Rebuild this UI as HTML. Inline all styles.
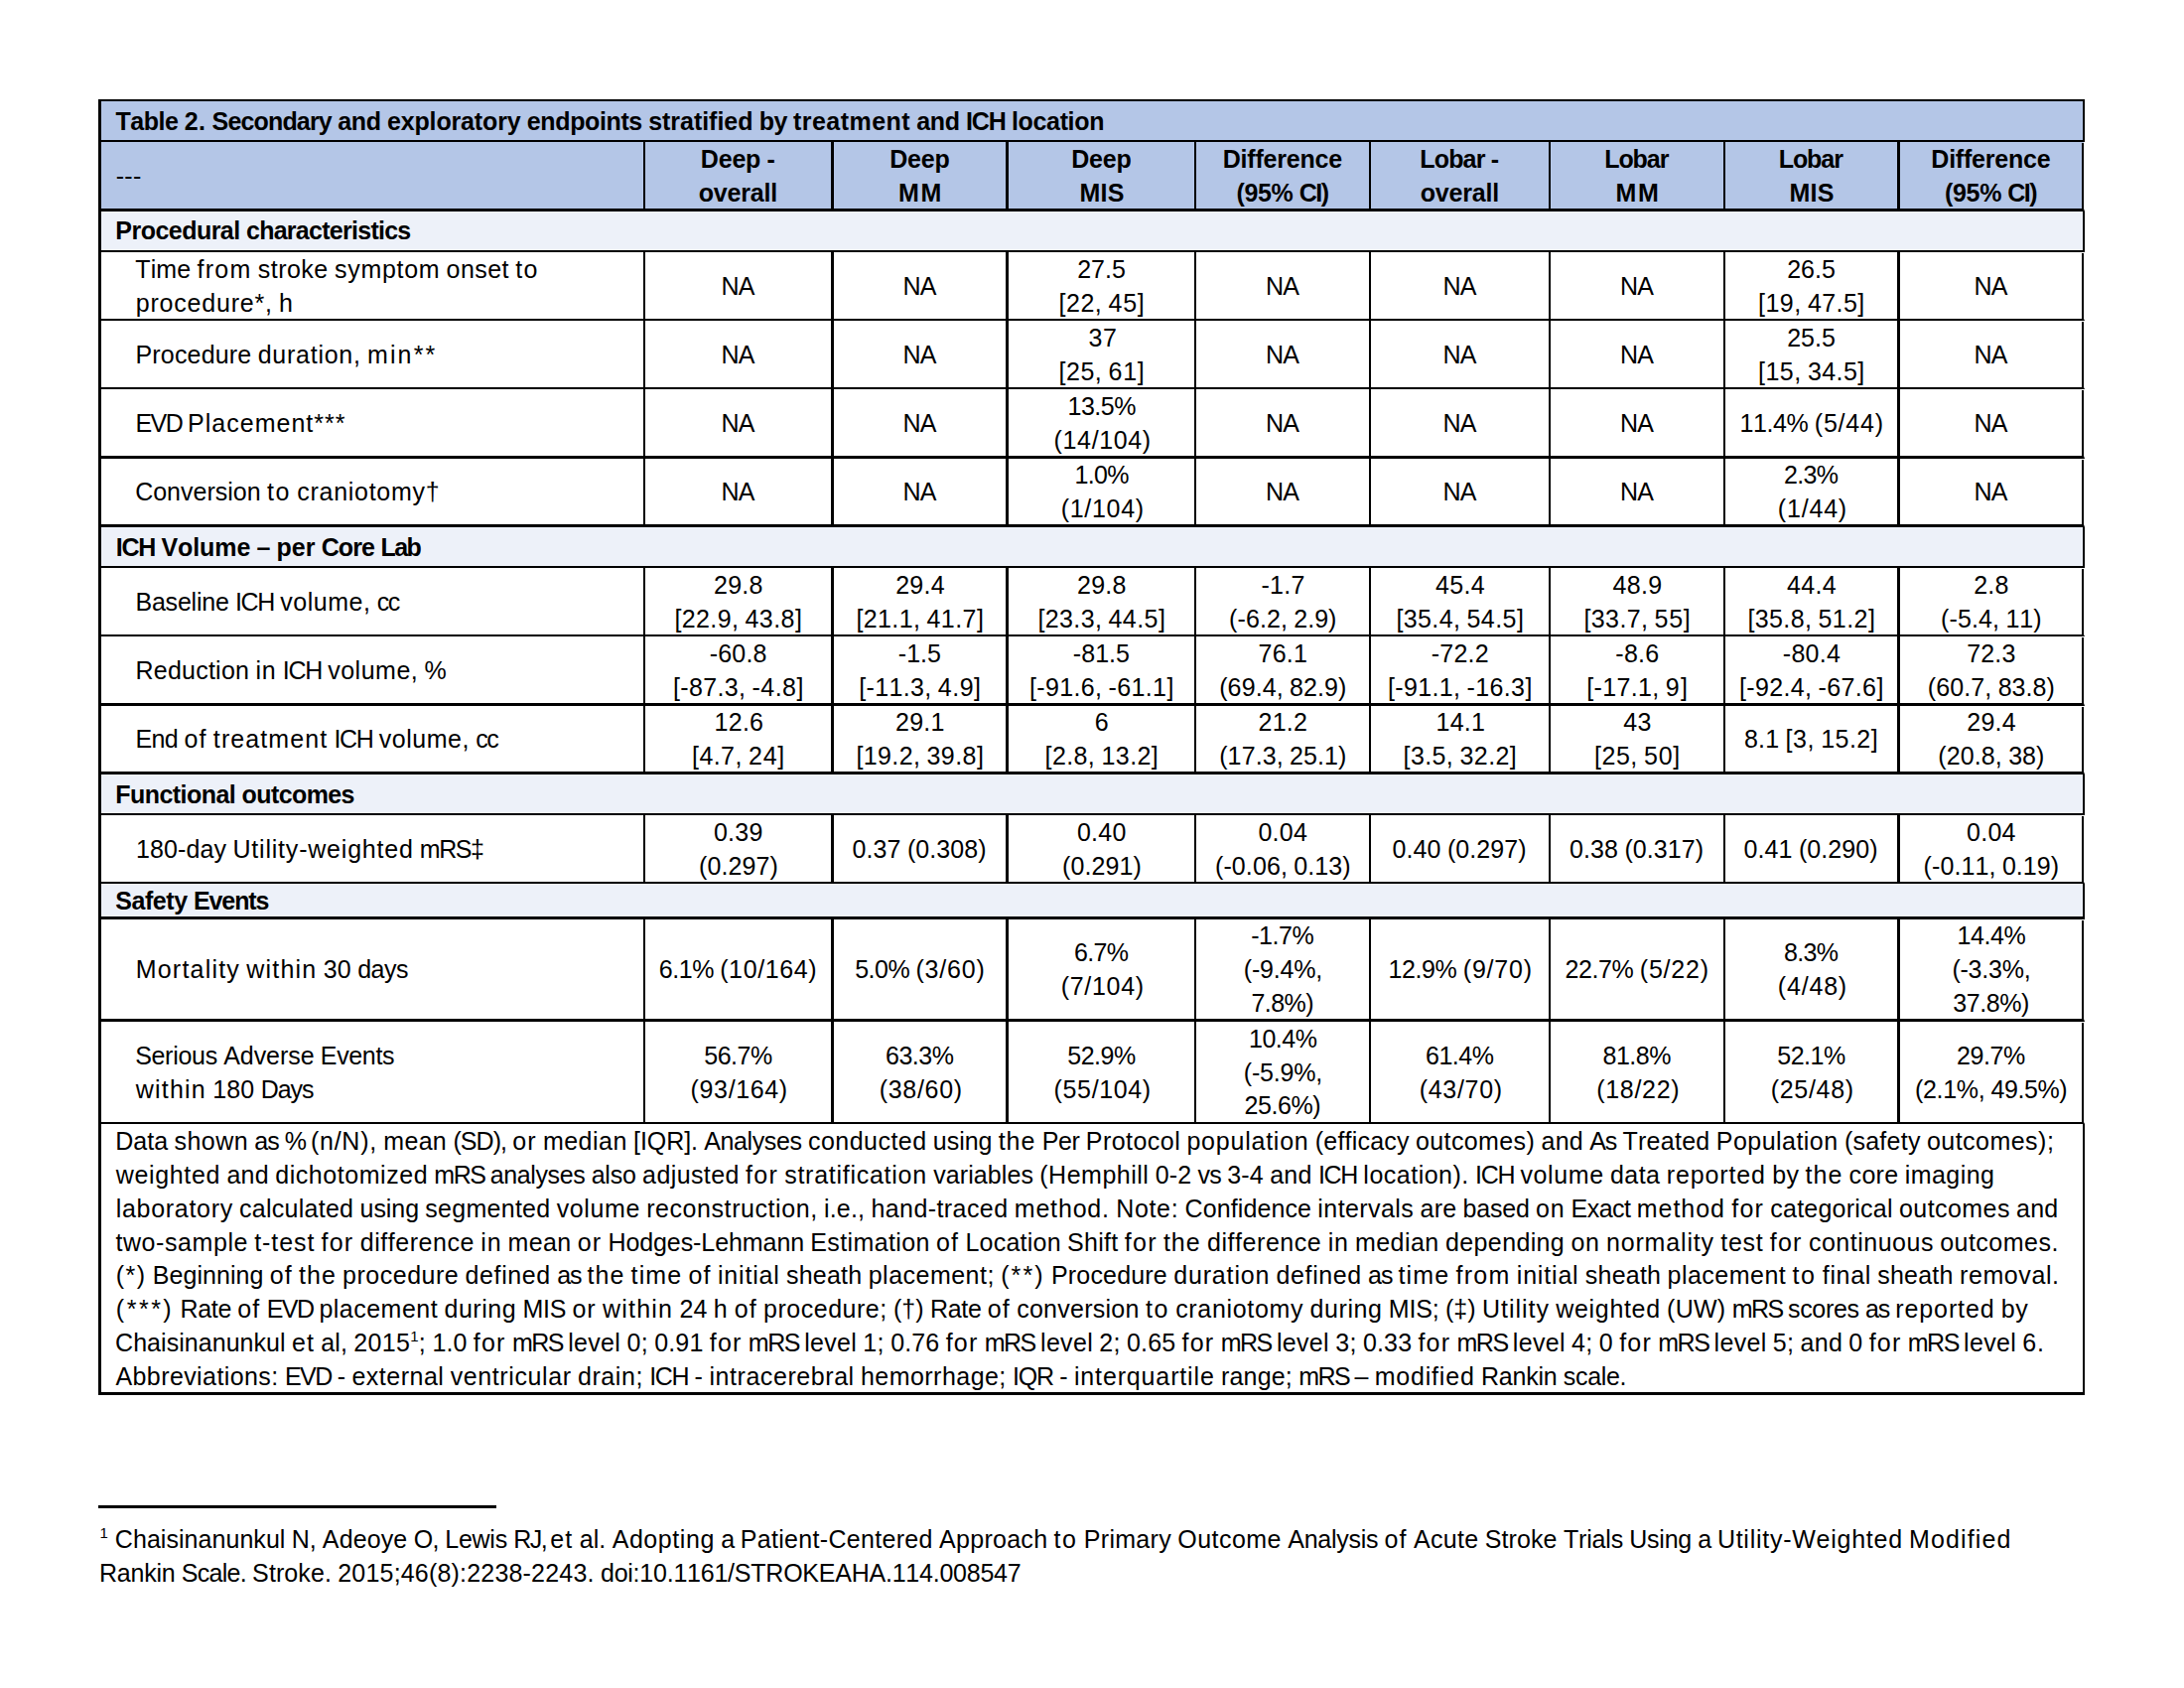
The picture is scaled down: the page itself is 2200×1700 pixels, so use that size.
<!DOCTYPE html><html lang="en"><head><meta charset="utf-8"><title>Table 2</title><style>
*{box-sizing:border-box}
html,body{margin:0;padding:0;background:#fff}
body{width:2200px;height:1700px;position:relative;overflow:hidden;font-family:"Liberation Sans",Arial,sans-serif;font-size:25px;line-height:33.86px;color:#000;font-kerning:none;font-variant-ligatures:none}
table{position:absolute;left:99px;top:100px;width:2001px;border-collapse:separate;border-spacing:0;table-layout:fixed;border-left:3px solid #000;border-top:2px solid #000}
td,th{padding:0;margin:0;border:0 solid #000;vertical-align:middle;text-align:center;font-weight:400;overflow:visible;white-space:nowrap}
.in{position:relative;top:1px;display:flex;flex-direction:column;justify-content:center;overflow:visible}
.in>div{flex:none}
.ln{display:inline-block;white-space:nowrap;position:relative}
.w{display:inline-block;white-space:pre;text-align:left}
.hd{background:#B4C6E7;font-weight:700}
.hd th{font-weight:700}
td.last,th.last{border-right:1px solid #fff !important}
.last>.in{border-right:2px solid #000}
.sc{background:#EDF1F9;font-weight:700;text-align:left}
td.lab{text-align:left}
sup{font-size:15px;line-height:0;vertical-align:baseline;position:relative;top:-10px}
.rule{position:absolute;left:99px;top:1516px;width:401px;height:3px;background:#000}
.fn{position:absolute;left:100px;top:1533.4px;line-height:34px;white-space:nowrap}
</style></head><body>
<table><colgroup><col style="width:548px"><col style="width:190px"><col style="width:176px"><col style="width:189px"><col style="width:176px"><col style="width:181px"><col style="width:176px"><col style="width:176px"><col style="width:186px"></colgroup>
<tr><td colspan="9" class="hd" style="height:41px;border-bottom-width:2px;border-right-width:2px;text-align:left"><div class="in" style="height:39px;padding-left:14.4px"><div><span class="ln"><span class="w" style="width:69.46px;letter-spacing:-0.42px">Table </span><span class="w" style="width:27.78px;letter-spacing:0.33px">2. </span><span class="w" style="width:126.52px;letter-spacing:-0.84px">Secondary </span><span class="w" style="width:49.81px;letter-spacing:-0.31px">and </span><span class="w" style="width:140.88px;letter-spacing:-0.14px">exploratory </span><span class="w" style="width:122.36px;letter-spacing:-0.37px">endpoints </span><span class="w" style="width:111.54px;letter-spacing:-0.03px">stratified </span><span class="w" style="width:34.35px;letter-spacing:-0.55px">by </span><span class="w" style="width:124.24px;letter-spacing:0.45px">treatment </span><span class="w" style="width:49.81px;letter-spacing:-0.31px">and </span><span class="w" style="width:45.92px;letter-spacing:-1.14px">ICH </span><span class="w" style="width:93.39px;letter-spacing:-0.34px">location</span></span></div></div></td></tr>
<tr><th class="hd lab" style="height:70px;border-bottom-width:3px;border-right-width:2px;text-align:left"><div class="in" style="height:67px;padding-left:14.4px"><div style="font-weight:400"><span class="ln" style="left:-0.09px"><span class="w" style="width:25.51px;letter-spacing:0.32px;text-align:center;text-indent:0.32px">---</span></span></div></div></th><th class="hd" style="height:70px;border-bottom-width:3px;border-right-width:3px"><div class="in" style="height:67px"><div><span class="ln" style="left:-0.10px"><span class="w" style="width:66.67px;letter-spacing:-0.19px">Deep </span><span class="w" style="width:8.50px;letter-spacing:0.18px">-</span></span></div><div><span class="ln" style="left:-0.14px"><span class="w" style="width:79.30px;letter-spacing:-0.20px;text-align:center;text-indent:-0.20px">overall</span></span></div></div></th><th class="hd" style="height:70px;border-bottom-width:3px;border-right-width:3px"><div class="in" style="height:67px"><div><span class="ln" style="left:-0.10px"><span class="w" style="width:60.39px;letter-spacing:-0.19px;text-align:center;text-indent:-0.19px">Deep</span></span></div><div><span class="ln" style="left:0.21px"><span class="w" style="width:48.56px;letter-spacing:1.50px;text-align:center;text-indent:1.50px">MM</span></span></div></div></th><th class="hd" style="height:70px;border-bottom-width:3px;border-right-width:2px"><div class="in" style="height:67px"><div><span class="ln" style="left:-0.10px"><span class="w" style="width:60.39px;letter-spacing:-0.19px;text-align:center;text-indent:-0.19px">Deep</span></span></div><div><span class="ln" style="left:0.21px"><span class="w" style="width:44.82px;letter-spacing:0.25px;text-align:center;text-indent:0.25px">MIS</span></span></div></div></th><th class="hd" style="height:70px;border-bottom-width:3px;border-right-width:2px"><div class="in" style="height:67px"><div><span class="ln" style="left:-0.10px"><span class="w" style="width:120.28px;letter-spacing:-0.22px;text-align:center;text-indent:-0.22px">Difference</span></span></div><div><span class="ln" style="left:0.45px"><span class="w" style="width:63.35px;letter-spacing:-0.32px">(95% </span><span class="w" style="width:30.76px;letter-spacing:-1.50px">CI)</span></span></div></div></th><th class="hd" style="height:70px;border-bottom-width:3px;border-right-width:2px"><div class="in" style="height:67px"><div><span class="ln" style="left:-0.21px"><span class="w" style="width:71.46px;letter-spacing:-0.85px">Lobar </span><span class="w" style="width:8.50px;letter-spacing:0.18px">-</span></span></div><div><span class="ln" style="left:-0.14px"><span class="w" style="width:79.30px;letter-spacing:-0.20px;text-align:center;text-indent:-0.20px">overall</span></span></div></div></th><th class="hd" style="height:70px;border-bottom-width:3px;border-right-width:2px"><div class="in" style="height:67px"><div><span class="ln" style="left:-0.21px"><span class="w" style="width:65.18px;letter-spacing:-1.07px;text-align:center;text-indent:-1.07px">Lobar</span></span></div><div><span class="ln" style="left:0.21px"><span class="w" style="width:48.56px;letter-spacing:1.50px;text-align:center;text-indent:1.50px">MM</span></span></div></div></th><th class="hd" style="height:70px;border-bottom-width:3px;border-right-width:3px"><div class="in" style="height:67px"><div><span class="ln" style="left:-0.21px"><span class="w" style="width:65.18px;letter-spacing:-1.07px;text-align:center;text-indent:-1.07px">Lobar</span></span></div><div><span class="ln" style="left:0.21px"><span class="w" style="width:44.82px;letter-spacing:0.25px;text-align:center;text-indent:0.25px">MIS</span></span></div></div></th><th class="hd last" style="height:70px;border-bottom-width:3px;border-right-width:2px"><div class="in" style="height:67px"><div><span class="ln" style="left:-0.10px"><span class="w" style="width:120.28px;letter-spacing:-0.22px;text-align:center;text-indent:-0.22px">Difference</span></span></div><div><span class="ln" style="left:0.45px"><span class="w" style="width:63.35px;letter-spacing:-0.32px">(95% </span><span class="w" style="width:30.76px;letter-spacing:-1.50px">CI)</span></span></div></div></th></tr>
<tr><td colspan="9" class="sc" style="height:41px;border-bottom-width:2px;border-right-width:2px;text-align:left"><div class="in" style="height:39px;padding-left:14.4px;top:0"><div><span class="ln" style="left:-0.11px"><span class="w" style="width:131.71px;letter-spacing:-0.52px">Procedural </span><span class="w" style="width:166.02px;letter-spacing:-0.73px">characteristics</span></span></div></div></td></tr>
<tr><td class="lab" style="height:69px;border-bottom-width:2px;border-right-width:2px;text-align:left"><div class="in" style="height:67px;padding-left:34.5px"><div><span class="ln" style="left:-0.24px"><span class="w" style="width:62.21px;letter-spacing:0.09px">Time </span><span class="w" style="width:61.28px;letter-spacing:1.25px">from </span><span class="w" style="width:77.24px;letter-spacing:0.48px">stroke </span><span class="w" style="width:112.65px;letter-spacing:0.71px">symptom </span><span class="w" style="width:69.52px;letter-spacing:0.42px">onset </span><span class="w" style="width:23.95px;letter-spacing:1.50px">to</span></span></div><div><span class="ln" style="left:0.30px"><span class="w" style="width:144.24px;letter-spacing:0.79px">procedure*, </span><span class="w" style="width:14.60px;letter-spacing:0.69px">h</span></span></div></div></td><td class="" style="height:69px;border-bottom-width:2px;border-right-width:3px"><div class="in" style="height:67px"><div><span class="ln"><span class="w" style="width:34.01px;letter-spacing:-0.77px;text-align:center;text-indent:-0.77px">NA</span></span></div></div></td><td class="" style="height:69px;border-bottom-width:2px;border-right-width:3px"><div class="in" style="height:67px"><div><span class="ln"><span class="w" style="width:34.01px;letter-spacing:-0.77px;text-align:center;text-indent:-0.77px">NA</span></span></div></div></td><td class="" style="height:69px;border-bottom-width:2px;border-right-width:2px"><div class="in" style="height:67px"><div><span class="ln"><span class="w" style="width:49.25px;letter-spacing:0.00px;text-align:center;text-indent:0.00px">27.5</span></span></div><div><span class="ln" style="left:0.39px"><span class="w" style="width:49.89px;letter-spacing:0.48px">[22, </span><span class="w" style="width:36.68px;letter-spacing:0.77px">45]</span></span></div></div></td><td class="" style="height:69px;border-bottom-width:2px;border-right-width:2px"><div class="in" style="height:67px"><div><span class="ln"><span class="w" style="width:34.01px;letter-spacing:-0.77px;text-align:center;text-indent:-0.77px">NA</span></span></div></div></td><td class="" style="height:69px;border-bottom-width:2px;border-right-width:2px"><div class="in" style="height:67px"><div><span class="ln"><span class="w" style="width:34.01px;letter-spacing:-0.77px;text-align:center;text-indent:-0.77px">NA</span></span></div></div></td><td class="" style="height:69px;border-bottom-width:2px;border-right-width:2px"><div class="in" style="height:67px"><div><span class="ln"><span class="w" style="width:34.01px;letter-spacing:-0.77px;text-align:center;text-indent:-0.77px">NA</span></span></div></div></td><td class="" style="height:69px;border-bottom-width:2px;border-right-width:3px"><div class="in" style="height:67px"><div><span class="ln"><span class="w" style="width:49.25px;letter-spacing:0.00px;text-align:center;text-indent:0.00px">26.5</span></span></div><div><span class="ln" style="left:0.39px"><span class="w" style="width:49.89px;letter-spacing:0.48px">[19, </span><span class="w" style="width:57.77px;letter-spacing:0.44px">47.5]</span></span></div></div></td><td class="last" style="height:69px;border-bottom-width:2px;border-right-width:2px"><div class="in" style="height:67px"><div><span class="ln"><span class="w" style="width:34.01px;letter-spacing:-0.77px;text-align:center;text-indent:-0.77px">NA</span></span></div></div></td></tr>
<tr><td class="lab" style="height:69px;border-bottom-width:2px;border-right-width:2px;text-align:left"><div class="in" style="height:67px;padding-left:34.5px"><div><span class="ln" style="left:-0.06px"><span class="w" style="width:123.23px;letter-spacing:0.18px">Procedure </span><span class="w" style="width:110.32px;letter-spacing:0.75px">duration, </span><span class="w" style="width:70.83px;letter-spacing:2.13px">min**</span></span></div></div></td><td class="" style="height:69px;border-bottom-width:2px;border-right-width:3px"><div class="in" style="height:67px"><div><span class="ln"><span class="w" style="width:34.01px;letter-spacing:-0.77px;text-align:center;text-indent:-0.77px">NA</span></span></div></div></td><td class="" style="height:69px;border-bottom-width:2px;border-right-width:3px"><div class="in" style="height:67px"><div><span class="ln"><span class="w" style="width:34.01px;letter-spacing:-0.77px;text-align:center;text-indent:-0.77px">NA</span></span></div></div></td><td class="" style="height:69px;border-bottom-width:2px;border-right-width:2px"><div class="in" style="height:67px"><div><span class="ln" style="left:0.34px"><span class="w" style="width:28.16px;letter-spacing:0.71px;text-align:center;text-indent:0.71px">37</span></span></div><div><span class="ln" style="left:0.39px"><span class="w" style="width:49.89px;letter-spacing:0.48px">[25, </span><span class="w" style="width:36.68px;letter-spacing:0.77px">61]</span></span></div></div></td><td class="" style="height:69px;border-bottom-width:2px;border-right-width:2px"><div class="in" style="height:67px"><div><span class="ln"><span class="w" style="width:34.01px;letter-spacing:-0.77px;text-align:center;text-indent:-0.77px">NA</span></span></div></div></td><td class="" style="height:69px;border-bottom-width:2px;border-right-width:2px"><div class="in" style="height:67px"><div><span class="ln"><span class="w" style="width:34.01px;letter-spacing:-0.77px;text-align:center;text-indent:-0.77px">NA</span></span></div></div></td><td class="" style="height:69px;border-bottom-width:2px;border-right-width:2px"><div class="in" style="height:67px"><div><span class="ln"><span class="w" style="width:34.01px;letter-spacing:-0.77px;text-align:center;text-indent:-0.77px">NA</span></span></div></div></td><td class="" style="height:69px;border-bottom-width:2px;border-right-width:3px"><div class="in" style="height:67px"><div><span class="ln"><span class="w" style="width:49.25px;letter-spacing:0.00px;text-align:center;text-indent:0.00px">25.5</span></span></div><div><span class="ln" style="left:0.39px"><span class="w" style="width:49.89px;letter-spacing:0.48px">[15, </span><span class="w" style="width:57.77px;letter-spacing:0.44px">34.5]</span></span></div></div></td><td class="last" style="height:69px;border-bottom-width:2px;border-right-width:2px"><div class="in" style="height:67px"><div><span class="ln"><span class="w" style="width:34.01px;letter-spacing:-0.77px;text-align:center;text-indent:-0.77px">NA</span></span></div></div></td></tr>
<tr><td class="lab" style="height:70px;border-bottom-width:3px;border-right-width:2px;text-align:left"><div class="in" style="height:67px;padding-left:34.5px"><div><span class="ln" style="left:-0.08px"><span class="w" style="width:52.70px;letter-spacing:-1.50px">EVD </span><span class="w" style="width:161.02px;letter-spacing:1.01px">Placement***</span></span></div></div></td><td class="" style="height:70px;border-bottom-width:3px;border-right-width:3px"><div class="in" style="height:67px"><div><span class="ln"><span class="w" style="width:34.01px;letter-spacing:-0.77px;text-align:center;text-indent:-0.77px">NA</span></span></div></div></td><td class="" style="height:70px;border-bottom-width:3px;border-right-width:3px"><div class="in" style="height:67px"><div><span class="ln"><span class="w" style="width:34.01px;letter-spacing:-0.77px;text-align:center;text-indent:-0.77px">NA</span></span></div></div></td><td class="" style="height:70px;border-bottom-width:3px;border-right-width:2px"><div class="in" style="height:67px"><div><span class="ln" style="left:0.50px"><span class="w" style="width:69.11px;letter-spacing:-0.44px;text-align:center;text-indent:-0.44px">13.5%</span></span></div><div><span class="ln" style="left:0.48px"><span class="w" style="width:97.98px;letter-spacing:0.63px;text-align:center;text-indent:0.63px">(14/104)</span></span></div></div></td><td class="" style="height:70px;border-bottom-width:3px;border-right-width:2px"><div class="in" style="height:67px"><div><span class="ln"><span class="w" style="width:34.01px;letter-spacing:-0.77px;text-align:center;text-indent:-0.77px">NA</span></span></div></div></td><td class="" style="height:70px;border-bottom-width:3px;border-right-width:2px"><div class="in" style="height:67px"><div><span class="ln"><span class="w" style="width:34.01px;letter-spacing:-0.77px;text-align:center;text-indent:-0.77px">NA</span></span></div></div></td><td class="" style="height:70px;border-bottom-width:3px;border-right-width:2px"><div class="in" style="height:67px"><div><span class="ln"><span class="w" style="width:34.01px;letter-spacing:-0.77px;text-align:center;text-indent:-0.77px">NA</span></span></div></div></td><td class="" style="height:70px;border-bottom-width:3px;border-right-width:3px"><div class="in" style="height:67px"><div><span class="ln" style="left:0.50px"><span class="w" style="width:75.39px;letter-spacing:-0.36px">11.4% </span><span class="w" style="width:69.82px;letter-spacing:0.80px">(5/44)</span></span></div></div></td><td class="last" style="height:70px;border-bottom-width:3px;border-right-width:2px"><div class="in" style="height:67px"><div><span class="ln"><span class="w" style="width:34.01px;letter-spacing:-0.77px;text-align:center;text-indent:-0.77px">NA</span></span></div></div></td></tr>
<tr><td class="lab" style="height:69px;border-bottom-width:3px;border-right-width:2px;text-align:left"><div class="in" style="height:66px;padding-left:34.5px"><div><span class="ln" style="left:-0.36px"><span class="w" style="width:132.88px;letter-spacing:0.01px">Conversion </span><span class="w" style="width:30.24px;letter-spacing:1.50px">to </span><span class="w" style="width:142.92px;letter-spacing:0.72px">craniotomy†</span></span></div></div></td><td class="" style="height:69px;border-bottom-width:3px;border-right-width:3px"><div class="in" style="height:66px"><div><span class="ln"><span class="w" style="width:34.01px;letter-spacing:-0.77px;text-align:center;text-indent:-0.77px">NA</span></span></div></div></td><td class="" style="height:69px;border-bottom-width:3px;border-right-width:3px"><div class="in" style="height:66px"><div><span class="ln"><span class="w" style="width:34.01px;letter-spacing:-0.77px;text-align:center;text-indent:-0.77px">NA</span></span></div></div></td><td class="" style="height:69px;border-bottom-width:3px;border-right-width:2px"><div class="in" style="height:66px"><div><span class="ln" style="left:0.50px"><span class="w" style="width:55.03px;letter-spacing:-0.65px;text-align:center;text-indent:-0.65px">1.0%</span></span></div><div><span class="ln" style="left:0.48px"><span class="w" style="width:83.90px;letter-spacing:0.70px;text-align:center;text-indent:0.70px">(1/104)</span></span></div></div></td><td class="" style="height:69px;border-bottom-width:3px;border-right-width:2px"><div class="in" style="height:66px"><div><span class="ln"><span class="w" style="width:34.01px;letter-spacing:-0.77px;text-align:center;text-indent:-0.77px">NA</span></span></div></div></td><td class="" style="height:69px;border-bottom-width:3px;border-right-width:2px"><div class="in" style="height:66px"><div><span class="ln"><span class="w" style="width:34.01px;letter-spacing:-0.77px;text-align:center;text-indent:-0.77px">NA</span></span></div></div></td><td class="" style="height:69px;border-bottom-width:3px;border-right-width:2px"><div class="in" style="height:66px"><div><span class="ln"><span class="w" style="width:34.01px;letter-spacing:-0.77px;text-align:center;text-indent:-0.77px">NA</span></span></div></div></td><td class="" style="height:69px;border-bottom-width:3px;border-right-width:3px"><div class="in" style="height:66px"><div><span class="ln"><span class="w" style="width:55.03px;letter-spacing:-0.65px;text-align:center;text-indent:-0.65px">2.3%</span></span></div><div><span class="ln" style="left:0.48px"><span class="w" style="width:69.82px;letter-spacing:0.80px;text-align:center;text-indent:0.80px">(1/44)</span></span></div></div></td><td class="last" style="height:69px;border-bottom-width:3px;border-right-width:2px"><div class="in" style="height:66px"><div><span class="ln"><span class="w" style="width:34.01px;letter-spacing:-0.77px;text-align:center;text-indent:-0.77px">NA</span></span></div></div></td></tr>
<tr><td colspan="9" class="sc" style="height:41px;border-bottom-width:2px;border-right-width:2px;text-align:left"><div class="in" style="height:39px;padding-left:14.4px"><div><span class="ln" style="left:0.24px"><span class="w" style="width:45.92px;letter-spacing:-1.14px">ICH </span><span class="w" style="width:95.95px;letter-spacing:-0.10px">Volume </span><span class="w" style="width:20.12px;letter-spacing:-0.07px">– </span><span class="w" style="width:45.05px;letter-spacing:-0.05px">per </span><span class="w" style="width:59.78px;letter-spacing:-0.86px">Core </span><span class="w" style="width:40.37px;letter-spacing:-1.50px">Lab</span></span></div></div></td></tr>
<tr><td class="lab" style="height:69px;border-bottom-width:2px;border-right-width:2px;text-align:left"><div class="in" style="height:67px;padding-left:34.5px"><div><span class="ln" style="left:-0.10px"><span class="w" style="width:100.55px;letter-spacing:-0.20px">Baseline </span><span class="w" style="width:45.40px;letter-spacing:-1.31px">ICH </span><span class="w" style="width:97.39px;letter-spacing:0.51px">volume, </span><span class="w" style="width:23.49px;letter-spacing:-1.39px">cc</span></span></div></div></td><td class="" style="height:69px;border-bottom-width:2px;border-right-width:3px"><div class="in" style="height:67px"><div><span class="ln"><span class="w" style="width:49.25px;letter-spacing:0.19px;text-align:center;text-indent:0.19px">29.8</span></span></div><div><span class="ln" style="left:0.39px"><span class="w" style="width:70.98px;letter-spacing:0.36px">[22.9, </span><span class="w" style="width:57.77px;letter-spacing:0.44px">43.8]</span></span></div></div></td><td class="" style="height:69px;border-bottom-width:2px;border-right-width:3px"><div class="in" style="height:67px"><div><span class="ln"><span class="w" style="width:49.25px;letter-spacing:0.29px;text-align:center;text-indent:0.29px">29.4</span></span></div><div><span class="ln" style="left:0.39px"><span class="w" style="width:70.98px;letter-spacing:0.36px">[21.1, </span><span class="w" style="width:57.77px;letter-spacing:0.44px">41.7]</span></span></div></div></td><td class="" style="height:69px;border-bottom-width:2px;border-right-width:2px"><div class="in" style="height:67px"><div><span class="ln"><span class="w" style="width:49.25px;letter-spacing:0.19px;text-align:center;text-indent:0.19px">29.8</span></span></div><div><span class="ln" style="left:0.39px"><span class="w" style="width:70.98px;letter-spacing:0.36px">[23.3, </span><span class="w" style="width:57.77px;letter-spacing:0.44px">44.5]</span></span></div></div></td><td class="" style="height:69px;border-bottom-width:2px;border-right-width:2px"><div class="in" style="height:67px"><div><span class="ln" style="left:-0.09px"><span class="w" style="width:43.68px;letter-spacing:0.32px;text-align:center;text-indent:0.32px">-1.7</span></span></div><div><span class="ln" style="left:0.48px"><span class="w" style="width:65.31px;letter-spacing:0.11px">(-6.2, </span><span class="w" style="width:43.60px;letter-spacing:0.01px">2.9)</span></span></div></div></td><td class="" style="height:69px;border-bottom-width:2px;border-right-width:2px"><div class="in" style="height:67px"><div><span class="ln" style="left:-0.10px"><span class="w" style="width:49.25px;letter-spacing:0.29px;text-align:center;text-indent:0.29px">45.4</span></span></div><div><span class="ln" style="left:0.39px"><span class="w" style="width:70.98px;letter-spacing:0.36px">[35.4, </span><span class="w" style="width:57.77px;letter-spacing:0.44px">54.5]</span></span></div></div></td><td class="" style="height:69px;border-bottom-width:2px;border-right-width:2px"><div class="in" style="height:67px"><div><span class="ln" style="left:-0.10px"><span class="w" style="width:49.25px;letter-spacing:0.28px;text-align:center;text-indent:0.28px">48.9</span></span></div><div><span class="ln" style="left:0.39px"><span class="w" style="width:70.98px;letter-spacing:0.36px">[33.7, </span><span class="w" style="width:36.68px;letter-spacing:0.77px">55]</span></span></div></div></td><td class="" style="height:69px;border-bottom-width:2px;border-right-width:3px"><div class="in" style="height:67px"><div><span class="ln" style="left:-0.10px"><span class="w" style="width:49.25px;letter-spacing:0.29px;text-align:center;text-indent:0.29px">44.4</span></span></div><div><span class="ln" style="left:0.39px"><span class="w" style="width:70.98px;letter-spacing:0.36px">[35.8, </span><span class="w" style="width:57.77px;letter-spacing:0.44px">51.2]</span></span></div></div></td><td class="last" style="height:69px;border-bottom-width:2px;border-right-width:2px"><div class="in" style="height:67px"><div><span class="ln"><span class="w" style="width:35.17px;letter-spacing:0.20px;text-align:center;text-indent:0.20px">2.8</span></span></div><div><span class="ln" style="left:0.48px"><span class="w" style="width:65.31px;letter-spacing:0.11px">(-5.4, </span><span class="w" style="width:36.58px;letter-spacing:-0.02px">11)</span></span></div></div></td></tr>
<tr><td class="lab" style="height:70px;border-bottom-width:3px;border-right-width:2px;text-align:left"><div class="in" style="height:67px;padding-left:34.5px"><div><span class="ln" style="left:-0.06px"><span class="w" style="width:121.05px;letter-spacing:0.24px">Reduction </span><span class="w" style="width:27.25px;letter-spacing:0.76px">in </span><span class="w" style="width:45.40px;letter-spacing:-1.31px">ICH </span><span class="w" style="width:97.39px;letter-spacing:0.51px">volume, </span><span class="w" style="width:19.86px;letter-spacing:-1.50px">%</span></span></div></div></td><td class="" style="height:70px;border-bottom-width:3px;border-right-width:3px"><div class="in" style="height:67px"><div><span class="ln" style="left:-0.09px"><span class="w" style="width:57.76px;letter-spacing:0.19px;text-align:center;text-indent:0.19px">-60.8</span></span></div><div><span class="ln" style="left:0.39px"><span class="w" style="width:79.49px;letter-spacing:0.33px">[-87.3, </span><span class="w" style="width:52.20px;letter-spacing:0.45px">-4.8]</span></span></div></div></td><td class="" style="height:70px;border-bottom-width:3px;border-right-width:3px"><div class="in" style="height:67px"><div><span class="ln" style="left:-0.09px"><span class="w" style="width:43.68px;letter-spacing:0.00px;text-align:center;text-indent:0.00px">-1.5</span></span></div><div><span class="ln" style="left:0.39px"><span class="w" style="width:79.49px;letter-spacing:0.33px">[-11.3, </span><span class="w" style="width:43.69px;letter-spacing:0.53px">4.9]</span></span></div></div></td><td class="" style="height:70px;border-bottom-width:3px;border-right-width:2px"><div class="in" style="height:67px"><div><span class="ln" style="left:-0.09px"><span class="w" style="width:57.76px;letter-spacing:0.05px;text-align:center;text-indent:0.05px">-81.5</span></span></div><div><span class="ln" style="left:0.39px"><span class="w" style="width:79.49px;letter-spacing:0.33px">[-91.6, </span><span class="w" style="width:66.28px;letter-spacing:0.39px">-61.1]</span></span></div></div></td><td class="" style="height:70px;border-bottom-width:3px;border-right-width:2px"><div class="in" style="height:67px"><div><span class="ln"><span class="w" style="width:49.25px;letter-spacing:0.19px;text-align:center;text-indent:0.19px">76.1</span></span></div><div><span class="ln" style="left:0.48px"><span class="w" style="width:70.89px;letter-spacing:0.11px">(69.4, </span><span class="w" style="width:57.68px;letter-spacing:0.05px">82.9)</span></span></div></div></td><td class="" style="height:70px;border-bottom-width:3px;border-right-width:2px"><div class="in" style="height:67px"><div><span class="ln" style="left:-0.09px"><span class="w" style="width:57.76px;letter-spacing:0.21px;text-align:center;text-indent:0.21px">-72.2</span></span></div><div><span class="ln" style="left:0.39px"><span class="w" style="width:79.49px;letter-spacing:0.33px">[-91.1, </span><span class="w" style="width:66.28px;letter-spacing:0.39px">-16.3]</span></span></div></div></td><td class="" style="height:70px;border-bottom-width:3px;border-right-width:2px"><div class="in" style="height:67px"><div><span class="ln" style="left:-0.09px"><span class="w" style="width:43.68px;letter-spacing:0.24px;text-align:center;text-indent:0.24px">-8.6</span></span></div><div><span class="ln" style="left:0.39px"><span class="w" style="width:79.49px;letter-spacing:0.33px">[-17.1, </span><span class="w" style="width:22.60px;letter-spacing:1.36px">9]</span></span></div></div></td><td class="" style="height:70px;border-bottom-width:3px;border-right-width:3px"><div class="in" style="height:67px"><div><span class="ln" style="left:-0.09px"><span class="w" style="width:57.76px;letter-spacing:0.26px;text-align:center;text-indent:0.26px">-80.4</span></span></div><div><span class="ln" style="left:0.39px"><span class="w" style="width:79.49px;letter-spacing:0.33px">[-92.4, </span><span class="w" style="width:66.28px;letter-spacing:0.39px">-67.6]</span></span></div></div></td><td class="last" style="height:70px;border-bottom-width:3px;border-right-width:2px"><div class="in" style="height:67px"><div><span class="ln"><span class="w" style="width:49.25px;letter-spacing:0.21px;text-align:center;text-indent:0.21px">72.3</span></span></div><div><span class="ln" style="left:0.48px"><span class="w" style="width:70.89px;letter-spacing:0.11px">(60.7, </span><span class="w" style="width:57.68px;letter-spacing:0.05px">83.8)</span></span></div></div></td></tr>
<tr><td class="lab" style="height:69px;border-bottom-width:3px;border-right-width:2px;text-align:left"><div class="in" style="height:66px;padding-left:34.5px"><div><span class="ln" style="left:-0.08px"><span class="w" style="width:49.04px;letter-spacing:-0.58px">End </span><span class="w" style="width:29.41px;letter-spacing:1.14px">of </span><span class="w" style="width:121.62px;letter-spacing:1.08px">treatment </span><span class="w" style="width:45.40px;letter-spacing:-1.31px">ICH </span><span class="w" style="width:97.39px;letter-spacing:0.51px">volume, </span><span class="w" style="width:23.49px;letter-spacing:-1.39px">cc</span></span></div></div></td><td class="" style="height:69px;border-bottom-width:3px;border-right-width:3px"><div class="in" style="height:66px"><div><span class="ln" style="left:0.50px"><span class="w" style="width:49.25px;letter-spacing:0.24px;text-align:center;text-indent:0.24px">12.6</span></span></div><div><span class="ln" style="left:0.39px"><span class="w" style="width:56.90px;letter-spacing:0.40px">[4.7, </span><span class="w" style="width:36.68px;letter-spacing:0.77px">24]</span></span></div></div></td><td class="" style="height:69px;border-bottom-width:3px;border-right-width:3px"><div class="in" style="height:66px"><div><span class="ln"><span class="w" style="width:49.25px;letter-spacing:0.19px;text-align:center;text-indent:0.19px">29.1</span></span></div><div><span class="ln" style="left:0.39px"><span class="w" style="width:70.98px;letter-spacing:0.36px">[19.2, </span><span class="w" style="width:57.77px;letter-spacing:0.44px">39.8]</span></span></div></div></td><td class="" style="height:69px;border-bottom-width:3px;border-right-width:2px"><div class="in" style="height:66px"><div><span class="ln"><span class="w" style="width:14.08px;letter-spacing:0.18px;text-align:center;text-indent:0.18px">6</span></span></div><div><span class="ln" style="left:0.39px"><span class="w" style="width:56.90px;letter-spacing:0.40px">[2.8, </span><span class="w" style="width:57.77px;letter-spacing:0.44px">13.2]</span></span></div></div></td><td class="" style="height:69px;border-bottom-width:3px;border-right-width:2px"><div class="in" style="height:66px"><div><span class="ln"><span class="w" style="width:49.25px;letter-spacing:0.22px;text-align:center;text-indent:0.22px">21.2</span></span></div><div><span class="ln" style="left:0.48px"><span class="w" style="width:70.89px;letter-spacing:0.11px">(17.3, </span><span class="w" style="width:57.68px;letter-spacing:0.05px">25.1)</span></span></div></div></td><td class="" style="height:69px;border-bottom-width:3px;border-right-width:2px"><div class="in" style="height:66px"><div><span class="ln" style="left:0.50px"><span class="w" style="width:49.25px;letter-spacing:0.19px;text-align:center;text-indent:0.19px">14.1</span></span></div><div><span class="ln" style="left:0.39px"><span class="w" style="width:56.90px;letter-spacing:0.40px">[3.5, </span><span class="w" style="width:57.77px;letter-spacing:0.44px">32.2]</span></span></div></div></td><td class="" style="height:69px;border-bottom-width:3px;border-right-width:2px"><div class="in" style="height:66px"><div><span class="ln" style="left:-0.10px"><span class="w" style="width:28.16px;letter-spacing:0.39px;text-align:center;text-indent:0.39px">43</span></span></div><div><span class="ln" style="left:0.39px"><span class="w" style="width:49.89px;letter-spacing:0.48px">[25, </span><span class="w" style="width:36.68px;letter-spacing:0.77px">50]</span></span></div></div></td><td class="" style="height:69px;border-bottom-width:3px;border-right-width:3px"><div class="in" style="height:66px"><div><span class="ln"><span class="w" style="width:41.45px;letter-spacing:0.14px">8.1 </span><span class="w" style="width:35.81px;letter-spacing:0.58px">[3, </span><span class="w" style="width:57.77px;letter-spacing:0.44px">15.2]</span></span></div></div></td><td class="last" style="height:69px;border-bottom-width:3px;border-right-width:2px"><div class="in" style="height:66px"><div><span class="ln"><span class="w" style="width:49.25px;letter-spacing:0.29px;text-align:center;text-indent:0.29px">29.4</span></span></div><div><span class="ln" style="left:0.48px"><span class="w" style="width:70.89px;letter-spacing:0.11px">(20.8, </span><span class="w" style="width:36.58px;letter-spacing:-0.02px">38)</span></span></div></div></td></tr>
<tr><td colspan="9" class="sc" style="height:41px;border-bottom-width:2px;border-right-width:2px;text-align:left"><div class="in" style="height:39px;padding-left:14.4px"><div><span class="ln" style="left:-0.19px"><span class="w" style="width:127.30px;letter-spacing:-0.54px">Functional </span><span class="w" style="width:113.70px;letter-spacing:-0.58px">outcomes</span></span></div></div></td></tr>
<tr><td class="lab" style="height:69px;border-bottom-width:2px;border-right-width:2px;text-align:left"><div class="in" style="height:67px;padding-left:34.5px"><div><span class="ln" style="left:0.50px"><span class="w" style="width:97.50px;letter-spacing:0.13px">180-day </span><span class="w" style="width:188.37px;letter-spacing:0.79px">Utility-weighted </span><span class="w" style="width:63.88px;letter-spacing:-1.50px">mRS‡</span></span></div></div></td><td class="" style="height:69px;border-bottom-width:2px;border-right-width:3px"><div class="in" style="height:67px"><div><span class="ln" style="left:-0.26px"><span class="w" style="width:49.25px;letter-spacing:0.28px;text-align:center;text-indent:0.28px">0.39</span></span></div><div><span class="ln" style="left:0.48px"><span class="w" style="width:80.18px;letter-spacing:0.08px;text-align:center;text-indent:0.08px">(0.297)</span></span></div></div></td><td class="" style="height:69px;border-bottom-width:2px;border-right-width:3px"><div class="in" style="height:67px"><div><span class="ln" style="left:-0.26px"><span class="w" style="width:55.53px;letter-spacing:0.15px">0.37 </span><span class="w" style="width:80.18px;letter-spacing:0.08px">(0.308)</span></span></div></div></td><td class="" style="height:69px;border-bottom-width:2px;border-right-width:2px"><div class="in" style="height:67px"><div><span class="ln" style="left:-0.26px"><span class="w" style="width:49.25px;letter-spacing:0.28px;text-align:center;text-indent:0.28px">0.40</span></span></div><div><span class="ln" style="left:0.48px"><span class="w" style="width:80.18px;letter-spacing:0.08px;text-align:center;text-indent:0.08px">(0.291)</span></span></div></div></td><td class="" style="height:69px;border-bottom-width:2px;border-right-width:2px"><div class="in" style="height:67px"><div><span class="ln" style="left:-0.26px"><span class="w" style="width:49.25px;letter-spacing:0.29px;text-align:center;text-indent:0.29px">0.04</span></span></div><div><span class="ln" style="left:0.48px"><span class="w" style="width:79.39px;letter-spacing:0.12px">(-0.06, </span><span class="w" style="width:57.68px;letter-spacing:0.05px">0.13)</span></span></div></div></td><td class="" style="height:69px;border-bottom-width:2px;border-right-width:2px"><div class="in" style="height:67px"><div><span class="ln" style="left:-0.26px"><span class="w" style="width:55.53px;letter-spacing:0.15px">0.40 </span><span class="w" style="width:80.18px;letter-spacing:0.08px">(0.297)</span></span></div></div></td><td class="" style="height:69px;border-bottom-width:2px;border-right-width:2px"><div class="in" style="height:67px"><div><span class="ln" style="left:-0.26px"><span class="w" style="width:55.53px;letter-spacing:0.15px">0.38 </span><span class="w" style="width:80.18px;letter-spacing:0.08px">(0.317)</span></span></div></div></td><td class="" style="height:69px;border-bottom-width:2px;border-right-width:3px"><div class="in" style="height:67px"><div><span class="ln" style="left:-0.26px"><span class="w" style="width:55.53px;letter-spacing:0.15px">0.41 </span><span class="w" style="width:80.18px;letter-spacing:0.08px">(0.290)</span></span></div></div></td><td class="last" style="height:69px;border-bottom-width:2px;border-right-width:2px"><div class="in" style="height:67px"><div><span class="ln" style="left:-0.26px"><span class="w" style="width:49.25px;letter-spacing:0.29px;text-align:center;text-indent:0.29px">0.04</span></span></div><div><span class="ln" style="left:0.48px"><span class="w" style="width:79.39px;letter-spacing:0.12px">(-0.11, </span><span class="w" style="width:57.68px;letter-spacing:0.05px">0.19)</span></span></div></div></td></tr>
<tr><td colspan="9" class="sc" style="height:36px;border-bottom-width:3px;border-right-width:2px;text-align:left"><div class="in" style="height:33px;padding-left:14.4px"><div><span class="ln" style="left:-0.20px"><span class="w" style="width:78.69px;letter-spacing:-0.44px">Safety </span><span class="w" style="width:76.30px;letter-spacing:-1.07px">Events</span></span></div></div></td></tr>
<tr><td class="lab" style="height:103px;border-bottom-width:3px;border-right-width:2px;text-align:left"><div class="in" style="height:100px;padding-left:34.5px"><div><span class="ln" style="left:0.21px"><span class="w" style="width:111.61px;letter-spacing:1.21px">Mortality </span><span class="w" style="width:77.39px;letter-spacing:1.20px">within </span><span class="w" style="width:34.44px;letter-spacing:0.18px">30 </span><span class="w" style="width:51.34px;letter-spacing:-0.50px">days</span></span></div></div></td><td class="" style="height:103px;border-bottom-width:3px;border-right-width:3px"><div class="in" style="height:100px"><div><span class="ln"><span class="w" style="width:61.31px;letter-spacing:-0.49px">6.1% </span><span class="w" style="width:97.98px;letter-spacing:0.63px">(10/164)</span></span></div></div></td><td class="" style="height:103px;border-bottom-width:3px;border-right-width:3px"><div class="in" style="height:100px"><div><span class="ln" style="left:0.26px"><span class="w" style="width:61.31px;letter-spacing:-0.49px">5.0% </span><span class="w" style="width:69.82px;letter-spacing:0.80px">(3/60)</span></span></div></div></td><td class="" style="height:103px;border-bottom-width:3px;border-right-width:2px"><div class="in" style="height:100px"><div><span class="ln"><span class="w" style="width:55.03px;letter-spacing:-0.65px;text-align:center;text-indent:-0.65px">6.7%</span></span></div><div><span class="ln" style="left:0.48px"><span class="w" style="width:83.90px;letter-spacing:0.70px;text-align:center;text-indent:0.70px">(7/104)</span></span></div></div></td><td class="" style="height:103px;border-bottom-width:3px;border-right-width:2px"><div class="in" style="height:100px"><div><span class="ln" style="left:-0.09px"><span class="w" style="width:63.54px;letter-spacing:-0.44px;text-align:center;text-indent:-0.44px">-1.7%</span></span></div><div><span class="ln" style="left:0.48px"><span class="w" style="width:78.89px;letter-spacing:-0.21px;text-align:center;text-indent:-0.21px">(-9.4%,</span></span></div><div><span class="ln"><span class="w" style="width:63.45px;letter-spacing:-0.58px;text-align:center;text-indent:-0.58px">7.8%)</span></span></div></div></td><td class="" style="height:103px;border-bottom-width:3px;border-right-width:2px"><div class="in" style="height:100px"><div><span class="ln" style="left:0.50px"><span class="w" style="width:75.39px;letter-spacing:-0.36px">12.9% </span><span class="w" style="width:69.82px;letter-spacing:0.80px">(9/70)</span></span></div></div></td><td class="" style="height:103px;border-bottom-width:3px;border-right-width:2px"><div class="in" style="height:100px"><div><span class="ln"><span class="w" style="width:75.39px;letter-spacing:-0.36px">22.7% </span><span class="w" style="width:69.82px;letter-spacing:0.80px">(5/22)</span></span></div></div></td><td class="" style="height:103px;border-bottom-width:3px;border-right-width:3px"><div class="in" style="height:100px"><div><span class="ln"><span class="w" style="width:55.03px;letter-spacing:-0.65px;text-align:center;text-indent:-0.65px">8.3%</span></span></div><div><span class="ln" style="left:0.48px"><span class="w" style="width:69.82px;letter-spacing:0.80px;text-align:center;text-indent:0.80px">(4/48)</span></span></div></div></td><td class="last" style="height:103px;border-bottom-width:3px;border-right-width:2px"><div class="in" style="height:100px"><div><span class="ln" style="left:0.50px"><span class="w" style="width:69.11px;letter-spacing:-0.44px;text-align:center;text-indent:-0.44px">14.4%</span></span></div><div><span class="ln" style="left:0.48px"><span class="w" style="width:78.89px;letter-spacing:-0.21px;text-align:center;text-indent:-0.21px">(-3.3%,</span></span></div><div><span class="ln" style="left:0.34px"><span class="w" style="width:77.53px;letter-spacing:-0.43px;text-align:center;text-indent:-0.43px">37.8%)</span></span></div></div></td></tr>
<tr><td class="lab" style="height:103px;border-bottom-width:2px;border-right-width:2px;text-align:left"><div class="in" style="height:101px;padding-left:34.5px"><div><span class="ln" style="left:-0.39px"><span class="w" style="width:89.04px;letter-spacing:-0.29px">Serious </span><span class="w" style="width:97.69px;letter-spacing:-0.04px">Adverse </span><span class="w" style="width:74.70px;letter-spacing:-0.35px">Events</span></span></div><div><span class="ln" style="left:0.32px"><span class="w" style="width:77.39px;letter-spacing:1.20px">within </span><span class="w" style="width:48.52px;letter-spacing:0.18px">180 </span><span class="w" style="width:53.84px;letter-spacing:-1.05px">Days</span></span></div></div></td><td class="" style="height:103px;border-bottom-width:2px;border-right-width:3px"><div class="in" style="height:101px"><div><span class="ln" style="left:0.26px"><span class="w" style="width:69.11px;letter-spacing:-0.44px;text-align:center;text-indent:-0.44px">56.7%</span></span></div><div><span class="ln" style="left:0.48px"><span class="w" style="width:97.98px;letter-spacing:0.63px;text-align:center;text-indent:0.63px">(93/164)</span></span></div></div></td><td class="" style="height:103px;border-bottom-width:2px;border-right-width:3px"><div class="in" style="height:101px"><div><span class="ln"><span class="w" style="width:69.11px;letter-spacing:-0.44px;text-align:center;text-indent:-0.44px">63.3%</span></span></div><div><span class="ln" style="left:0.48px"><span class="w" style="width:83.90px;letter-spacing:0.70px;text-align:center;text-indent:0.70px">(38/60)</span></span></div></div></td><td class="" style="height:103px;border-bottom-width:2px;border-right-width:2px"><div class="in" style="height:101px"><div><span class="ln" style="left:0.26px"><span class="w" style="width:69.11px;letter-spacing:-0.44px;text-align:center;text-indent:-0.44px">52.9%</span></span></div><div><span class="ln" style="left:0.48px"><span class="w" style="width:97.98px;letter-spacing:0.63px;text-align:center;text-indent:0.63px">(55/104)</span></span></div></div></td><td class="" style="height:103px;border-bottom-width:2px;border-right-width:2px"><div class="in" style="height:101px"><div><span class="ln" style="left:0.50px"><span class="w" style="width:69.11px;letter-spacing:-0.44px;text-align:center;text-indent:-0.44px">10.4%</span></span></div><div><span class="ln" style="left:0.48px"><span class="w" style="width:78.89px;letter-spacing:-0.21px;text-align:center;text-indent:-0.21px">(-5.9%,</span></span></div><div><span class="ln"><span class="w" style="width:77.53px;letter-spacing:-0.43px;text-align:center;text-indent:-0.43px">25.6%)</span></span></div></div></td><td class="" style="height:103px;border-bottom-width:2px;border-right-width:2px"><div class="in" style="height:101px"><div><span class="ln"><span class="w" style="width:69.11px;letter-spacing:-0.44px;text-align:center;text-indent:-0.44px">61.4%</span></span></div><div><span class="ln" style="left:0.48px"><span class="w" style="width:83.90px;letter-spacing:0.70px;text-align:center;text-indent:0.70px">(43/70)</span></span></div></div></td><td class="" style="height:103px;border-bottom-width:2px;border-right-width:2px"><div class="in" style="height:101px"><div><span class="ln"><span class="w" style="width:69.11px;letter-spacing:-0.44px;text-align:center;text-indent:-0.44px">81.8%</span></span></div><div><span class="ln" style="left:0.48px"><span class="w" style="width:83.90px;letter-spacing:0.70px;text-align:center;text-indent:0.70px">(18/22)</span></span></div></div></td><td class="" style="height:103px;border-bottom-width:2px;border-right-width:3px"><div class="in" style="height:101px"><div><span class="ln" style="left:0.26px"><span class="w" style="width:69.11px;letter-spacing:-0.44px;text-align:center;text-indent:-0.44px">52.1%</span></span></div><div><span class="ln" style="left:0.48px"><span class="w" style="width:83.90px;letter-spacing:0.70px;text-align:center;text-indent:0.70px">(25/48)</span></span></div></div></td><td class="last" style="height:103px;border-bottom-width:2px;border-right-width:2px"><div class="in" style="height:101px"><div><span class="ln"><span class="w" style="width:69.11px;letter-spacing:-0.44px;text-align:center;text-indent:-0.44px">29.7%</span></span></div><div><span class="ln" style="left:0.48px"><span class="w" style="width:76.67px;letter-spacing:-0.31px">(2.1%, </span><span class="w" style="width:77.53px;letter-spacing:-0.43px">49.5%)</span></span></div></div></td></tr>
<tr><td colspan="9" style="height:273px;border-bottom-width:3px;border-right-width:2px;text-align:left;vertical-align:top"><div class="in" style="height:270px;padding-left:14.4px;justify-content:flex-start"><div><span class="ln" style="left:-0.17px"><span class="w" style="width:59.29px;letter-spacing:0.05px">Data </span><span class="w" style="width:80.84px;letter-spacing:0.46px">shown </span><span class="w" style="width:30.45px;letter-spacing:-1.12px">as </span><span class="w" style="width:26.14px;letter-spacing:-1.50px">% </span><span class="w" style="width:73.32px;letter-spacing:0.76px">(n/N), </span><span class="w" style="width:70.20px;letter-spacing:0.34px">mean </span><span class="w" style="width:59.91px;letter-spacing:-0.94px">(SD), </span><span class="w" style="width:30.61px;letter-spacing:1.05px">or </span><span class="w" style="width:91.17px;letter-spacing:0.48px">median </span><span class="w" style="width:71.10px;letter-spacing:-0.08px">[IQR]. </span><span class="w" style="width:104.76px;letter-spacing:-0.37px">Analyses </span><span class="w" style="width:125.93px;letter-spacing:0.48px">conducted </span><span class="w" style="width:65.79px;letter-spacing:-0.05px">using </span><span class="w" style="width:44.00px;letter-spacing:0.99px">the </span><span class="w" style="width:44.14px;letter-spacing:-0.35px">Per </span><span class="w" style="width:101.69px;letter-spacing:0.46px">Protocol </span><span class="w" style="width:129.32px;letter-spacing:0.77px">population </span><span class="w" style="width:101.23px;letter-spacing:0.21px">(efficacy </span><span class="w" style="width:126.53px;letter-spacing:0.39px">outcomes) </span><span class="w" style="width:48.78px;letter-spacing:0.26px">and </span><span class="w" style="width:33.22px;letter-spacing:-1.12px">As </span><span class="w" style="width:94.35px;letter-spacing:0.27px">Treated </span><span class="w" style="width:129.08px;letter-spacing:0.46px">Population </span><span class="w" style="width:83.06px;letter-spacing:0.25px">(safety </span><span class="w" style="width:127.68px;letter-spacing:0.47px">outcomes);</span></span></div><div><span class="ln" style="left:0.32px"><span class="w" style="width:111.73px;letter-spacing:0.67px">weighted </span><span class="w" style="width:48.78px;letter-spacing:0.26px">and </span><span class="w" style="width:160.16px;letter-spacing:0.55px">dichotomized </span><span class="w" style="width:56.32px;letter-spacing:-1.50px">mRS </span><span class="w" style="width:101.99px;letter-spacing:-0.37px">analyses </span><span class="w" style="width:51.48px;letter-spacing:-0.17px">also </span><span class="w" style="width:104.01px;letter-spacing:0.40px">adjusted </span><span class="w" style="width:39.09px;letter-spacing:1.21px">for </span><span class="w" style="width:149.96px;letter-spacing:0.73px">stratification </span><span class="w" style="width:107.16px;letter-spacing:0.09px">variables </span><span class="w" style="width:116.34px;letter-spacing:0.50px">(Hemphill </span><span class="w" style="width:42.95px;letter-spacing:0.18px">0-2 </span><span class="w" style="width:29.69px;letter-spacing:-0.79px">vs </span><span class="w" style="width:42.95px;letter-spacing:0.18px">3-4 </span><span class="w" style="width:48.78px;letter-spacing:0.26px">and </span><span class="w" style="width:45.40px;letter-spacing:-1.31px">ICH </span><span class="w" style="width:112.72px;letter-spacing:0.50px">location). </span><span class="w" style="width:45.40px;letter-spacing:-1.31px">ICH </span><span class="w" style="width:90.46px;letter-spacing:0.60px">volume </span><span class="w" style="width:56.79px;letter-spacing:0.46px">data </span><span class="w" style="width:106.44px;letter-spacing:0.88px">reported </span><span class="w" style="width:33.45px;letter-spacing:0.38px">by </span><span class="w" style="width:44.00px;letter-spacing:0.99px">the </span><span class="w" style="width:56.18px;letter-spacing:0.32px">core </span><span class="w" style="width:89.00px;letter-spacing:0.43px">imaging</span></span></div><div><span class="ln" style="left:0.31px"><span class="w" style="width:124.41px;letter-spacing:0.70px">laboratory </span><span class="w" style="width:121.46px;letter-spacing:0.26px">calculated </span><span class="w" style="width:65.79px;letter-spacing:-0.05px">using </span><span class="w" style="width:132.38px;letter-spacing:0.27px">segmented </span><span class="w" style="width:90.46px;letter-spacing:0.60px">volume </span><span class="w" style="width:178.83px;letter-spacing:0.57px">reconstruction, </span><span class="w" style="width:47.43px;letter-spacing:0.17px">i.e., </span><span class="w" style="width:144.34px;letter-spacing:0.42px">hand-traced </span><span class="w" style="width:102.45px;letter-spacing:0.83px">method. </span><span class="w" style="width:69.42px;letter-spacing:0.68px">Note: </span><span class="w" style="width:133.77px;letter-spacing:0.10px">Confidence </span><span class="w" style="width:103.16px;letter-spacing:0.42px">intervals </span><span class="w" style="width:43.09px;letter-spacing:0.23px">are </span><span class="w" style="width:73.47px;letter-spacing:-0.19px">based </span><span class="w" style="width:35.53px;letter-spacing:0.72px">on </span><span class="w" style="width:66.24px;letter-spacing:-0.51px">Exact </span><span class="w" style="width:95.44px;letter-spacing:0.96px">method </span><span class="w" style="width:39.09px;letter-spacing:1.21px">for </span><span class="w" style="width:129.68px;letter-spacing:0.23px">categorical </span><span class="w" style="width:118.11px;letter-spacing:0.43px">outcomes </span><span class="w" style="width:42.50px;letter-spacing:0.22px">and</span></span></div><div><span class="ln" style="left:0.08px"><span class="w" style="width:139.75px;letter-spacing:0.57px">two-sample </span><span class="w" style="width:67.39px;letter-spacing:0.92px">t-test </span><span class="w" style="width:39.09px;letter-spacing:1.21px">for </span><span class="w" style="width:121.70px;letter-spacing:0.56px">difference </span><span class="w" style="width:27.25px;letter-spacing:0.76px">in </span><span class="w" style="width:70.20px;letter-spacing:0.34px">mean </span><span class="w" style="width:30.61px;letter-spacing:1.05px">or </span><span class="w" style="width:203.89px;letter-spacing:-0.08px">Hodges-Lehmann </span><span class="w" style="width:126.81px;letter-spacing:0.38px">Estimation </span><span class="w" style="width:29.41px;letter-spacing:1.14px">of </span><span class="w" style="width:102.59px;letter-spacing:0.22px">Location </span><span class="w" style="width:57.80px;letter-spacing:0.30px">Shift </span><span class="w" style="width:39.09px;letter-spacing:1.21px">for </span><span class="w" style="width:44.00px;letter-spacing:0.99px">the </span><span class="w" style="width:121.70px;letter-spacing:0.56px">difference </span><span class="w" style="width:27.25px;letter-spacing:0.76px">in </span><span class="w" style="width:91.17px;letter-spacing:0.48px">median </span><span class="w" style="width:126.35px;letter-spacing:0.37px">depending </span><span class="w" style="width:35.53px;letter-spacing:0.72px">on </span><span class="w" style="width:115.34px;letter-spacing:0.85px">normality </span><span class="w" style="width:49.58px;letter-spacing:0.75px">test </span><span class="w" style="width:39.09px;letter-spacing:1.21px">for </span><span class="w" style="width:132.25px;letter-spacing:0.51px">continuous </span><span class="w" style="width:118.84px;letter-spacing:0.49px">outcomes.</span></span></div><div><span class="ln" style="left:0.48px"><span class="w" style="width:36.96px;letter-spacing:1.43px">(*) </span><span class="w" style="width:117.90px;letter-spacing:0.05px">Beginning </span><span class="w" style="width:29.41px;letter-spacing:1.14px">of </span><span class="w" style="width:44.00px;letter-spacing:0.99px">the </span><span class="w" style="width:123.48px;letter-spacing:0.51px">procedure </span><span class="w" style="width:92.56px;letter-spacing:0.61px">defined </span><span class="w" style="width:30.45px;letter-spacing:-1.12px">as </span><span class="w" style="width:44.00px;letter-spacing:0.99px">the </span><span class="w" style="width:57.97px;letter-spacing:1.12px">time </span><span class="w" style="width:29.41px;letter-spacing:1.14px">of </span><span class="w" style="width:68.99px;letter-spacing:0.82px">initial </span><span class="w" style="width:82.77px;letter-spacing:0.24px">sheath </span><span class="w" style="width:133.47px;letter-spacing:0.49px">placement; </span><span class="w" style="width:50.80px;letter-spacing:2.10px">(**) </span><span class="w" style="width:123.23px;letter-spacing:0.18px">Procedure </span><span class="w" style="width:103.39px;letter-spacing:0.85px">duration </span><span class="w" style="width:92.56px;letter-spacing:0.61px">defined </span><span class="w" style="width:30.45px;letter-spacing:-1.12px">as </span><span class="w" style="width:57.97px;letter-spacing:1.12px">time </span><span class="w" style="width:61.28px;letter-spacing:1.25px">from </span><span class="w" style="width:68.99px;letter-spacing:0.82px">initial </span><span class="w" style="width:82.77px;letter-spacing:0.24px">sheath </span><span class="w" style="width:126.04px;letter-spacing:0.49px">placement </span><span class="w" style="width:30.24px;letter-spacing:1.50px">to </span><span class="w" style="width:55.41px;letter-spacing:0.65px">final </span><span class="w" style="width:82.77px;letter-spacing:0.24px">sheath </span><span class="w" style="width:99.59px;letter-spacing:0.60px">removal.</span></span></div><div><span class="ln" style="left:0.48px"><span class="w" style="width:64.63px;letter-spacing:2.50px">(***) </span><span class="w" style="width:57.80px;letter-spacing:-0.32px">Rate </span><span class="w" style="width:29.41px;letter-spacing:1.14px">of </span><span class="w" style="width:52.70px;letter-spacing:-1.50px">EVD </span><span class="w" style="width:126.04px;letter-spacing:0.49px">placement </span><span class="w" style="width:79.20px;letter-spacing:0.57px">during </span><span class="w" style="width:49.80px;letter-spacing:-0.31px">MIS </span><span class="w" style="width:30.61px;letter-spacing:1.05px">or </span><span class="w" style="width:77.39px;letter-spacing:1.20px">within </span><span class="w" style="width:34.44px;letter-spacing:0.18px">24 </span><span class="w" style="width:20.88px;letter-spacing:0.69px">h </span><span class="w" style="width:29.41px;letter-spacing:1.14px">of </span><span class="w" style="width:130.91px;letter-spacing:0.51px">procedure; </span><span class="w" style="width:36.96px;letter-spacing:0.04px">(†) </span><span class="w" style="width:57.80px;letter-spacing:-0.32px">Rate </span><span class="w" style="width:29.41px;letter-spacing:1.14px">of </span><span class="w" style="width:129.81px;letter-spacing:0.26px">conversion </span><span class="w" style="width:30.24px;letter-spacing:1.50px">to </span><span class="w" style="width:135.36px;letter-spacing:0.68px">craniotomy </span><span class="w" style="width:79.20px;letter-spacing:0.57px">during </span><span class="w" style="width:57.23px;letter-spacing:-0.11px">MIS; </span><span class="w" style="width:36.96px;letter-spacing:0.04px">(‡) </span><span class="w" style="width:74.41px;letter-spacing:1.00px">Utility </span><span class="w" style="width:111.73px;letter-spacing:0.67px">weighted </span><span class="w" style="width:65.67px;letter-spacing:0.27px">(UW) </span><span class="w" style="width:56.32px;letter-spacing:-1.50px">mRS </span><span class="w" style="width:77.91px;letter-spacing:-0.33px">scores </span><span class="w" style="width:30.45px;letter-spacing:-1.12px">as </span><span class="w" style="width:106.44px;letter-spacing:0.88px">reported </span><span class="w" style="width:27.17px;letter-spacing:0.62px">by</span></span></div><div><span class="ln" style="left:-0.36px"><span class="w" style="width:177.90px;letter-spacing:0.05px">Chaisinanunkul </span><span class="w" style="width:29.41px;letter-spacing:1.14px">et </span><span class="w" style="width:32.89px;letter-spacing:0.07px">al, </span><span class="w" style="width:79.19px;letter-spacing:0.33px">2015<sup>1</sup>; </span><span class="w" style="width:41.45px;letter-spacing:0.14px">1.0 </span><span class="w" style="width:39.09px;letter-spacing:1.21px">for </span><span class="w" style="width:56.32px;letter-spacing:-1.50px">mRS </span><span class="w" style="width:59.22px;letter-spacing:0.31px">level </span><span class="w" style="width:27.79px;letter-spacing:0.33px">0; </span><span class="w" style="width:55.53px;letter-spacing:0.15px">0.91 </span><span class="w" style="width:39.09px;letter-spacing:1.21px">for </span><span class="w" style="width:56.32px;letter-spacing:-1.50px">mRS </span><span class="w" style="width:59.22px;letter-spacing:0.31px">level </span><span class="w" style="width:27.79px;letter-spacing:0.33px">1; </span><span class="w" style="width:55.53px;letter-spacing:0.15px">0.76 </span><span class="w" style="width:39.09px;letter-spacing:1.21px">for </span><span class="w" style="width:56.32px;letter-spacing:-1.50px">mRS </span><span class="w" style="width:59.22px;letter-spacing:0.31px">level </span><span class="w" style="width:27.79px;letter-spacing:0.33px">2; </span><span class="w" style="width:55.53px;letter-spacing:0.15px">0.65 </span><span class="w" style="width:39.09px;letter-spacing:1.21px">for </span><span class="w" style="width:56.32px;letter-spacing:-1.50px">mRS </span><span class="w" style="width:59.22px;letter-spacing:0.31px">level </span><span class="w" style="width:27.79px;letter-spacing:0.33px">3; </span><span class="w" style="width:55.53px;letter-spacing:0.15px">0.33 </span><span class="w" style="width:39.09px;letter-spacing:1.21px">for </span><span class="w" style="width:56.32px;letter-spacing:-1.50px">mRS </span><span class="w" style="width:59.22px;letter-spacing:0.31px">level </span><span class="w" style="width:27.79px;letter-spacing:0.33px">4; </span><span class="w" style="width:20.36px;letter-spacing:0.18px">0 </span><span class="w" style="width:39.09px;letter-spacing:1.21px">for </span><span class="w" style="width:56.32px;letter-spacing:-1.50px">mRS </span><span class="w" style="width:59.22px;letter-spacing:0.31px">level </span><span class="w" style="width:27.79px;letter-spacing:0.33px">5; </span><span class="w" style="width:48.78px;letter-spacing:0.26px">and </span><span class="w" style="width:20.36px;letter-spacing:0.18px">0 </span><span class="w" style="width:39.09px;letter-spacing:1.21px">for </span><span class="w" style="width:56.32px;letter-spacing:-1.50px">mRS </span><span class="w" style="width:59.22px;letter-spacing:0.31px">level </span><span class="w" style="width:21.09px;letter-spacing:0.68px">6.</span></span></div><div><span class="ln" style="left:0.06px"><span class="w" style="width:170.51px;letter-spacing:0.41px">Abbreviations: </span><span class="w" style="width:52.70px;letter-spacing:-1.50px">EVD </span><span class="w" style="width:14.79px;letter-spacing:0.18px">- </span><span class="w" style="width:99.22px;letter-spacing:0.50px">external </span><span class="w" style="width:128.32px;letter-spacing:0.61px">ventricular </span><span class="w" style="width:72.27px;letter-spacing:0.58px">drain; </span><span class="w" style="width:45.40px;letter-spacing:-1.31px">ICH </span><span class="w" style="width:14.79px;letter-spacing:0.18px">- </span><span class="w" style="width:152.59px;letter-spacing:0.57px">intracerebral </span><span class="w" style="width:153.14px;letter-spacing:0.46px">hemorrhage; </span><span class="w" style="width:47.06px;letter-spacing:-1.22px">IQR </span><span class="w" style="width:14.79px;letter-spacing:0.18px">- </span><span class="w" style="width:148.12px;letter-spacing:0.86px">interquartile </span><span class="w" style="width:78.20px;letter-spacing:0.17px">range; </span><span class="w" style="width:56.32px;letter-spacing:-1.50px">mRS </span><span class="w" style="width:20.12px;letter-spacing:-0.07px">– </span><span class="w" style="width:107.36px;letter-spacing:0.82px">modified </span><span class="w" style="width:82.87px;letter-spacing:-0.21px">Rankin </span><span class="w" style="width:63.13px;letter-spacing:-0.35px">scale.</span></span></div></div></td></tr>
</table>
<div class="rule"></div>
<div class="fn"><div><span class="ln" style="left:0.42px"><span class="w" style="width:15.43px;letter-spacing:0.81px"><sup>1</sup> </span><span class="w" style="width:177.90px;letter-spacing:0.05px">Chaisinanunkul </span><span class="w" style="width:31.14px;letter-spacing:-0.07px">N, </span><span class="w" style="width:91.82px;letter-spacing:0.12px">Adeoye </span><span class="w" style="width:31.61px;letter-spacing:-0.53px">O, </span><span class="w" style="width:68.88px;letter-spacing:-0.26px">Lewis </span><span class="w" style="width:37.15px;letter-spacing:-1.50px">RJ, </span><span class="w" style="width:29.41px;letter-spacing:1.14px">et </span><span class="w" style="width:32.98px;letter-spacing:0.10px">al. </span><span class="w" style="width:109.55px;letter-spacing:0.57px">Adopting </span><span class="w" style="width:19.59px;letter-spacing:-0.60px">a </span><span class="w" style="width:200.31px;letter-spacing:0.31px">Patient-Centered </span><span class="w" style="width:115.53px;letter-spacing:0.28px">Approach </span><span class="w" style="width:30.24px;letter-spacing:1.50px">to </span><span class="w" style="width:94.45px;letter-spacing:0.29px">Primary </span><span class="w" style="width:110.98px;letter-spacing:0.47px">Outcome </span><span class="w" style="width:97.31px;letter-spacing:-0.26px">Analysis </span><span class="w" style="width:29.41px;letter-spacing:1.14px">of </span><span class="w" style="width:71.82px;letter-spacing:0.32px">Acute </span><span class="w" style="width:79.14px;letter-spacing:0.10px">Stroke </span><span class="w" style="width:66.43px;letter-spacing:-0.16px">Trials </span><span class="w" style="width:69.02px;letter-spacing:-0.24px">Using </span><span class="w" style="width:19.59px;letter-spacing:-0.60px">a </span><span class="w" style="width:193.23px;letter-spacing:0.74px">Utility-Weighted </span><span class="w" style="width:102.64px;letter-spacing:1.12px">Modified</span></span></div><div><span class="ln" style="left:-0.06px"><span class="w" style="width:82.87px;letter-spacing:-0.21px">Rankin </span><span class="w" style="width:71.31px;letter-spacing:-0.74px">Scale. </span><span class="w" style="width:86.15px;letter-spacing:0.10px">Stroke. </span><span class="w" style="width:264.71px;letter-spacing:0.19px">2015;46(8):2238-2243. </span><span class="w" style="width:423.25px;letter-spacing:-0.23px">doi:10.1161/STROKEAHA.114.008547</span></span></div></div>
</body></html>
